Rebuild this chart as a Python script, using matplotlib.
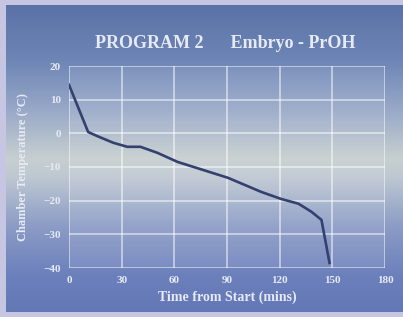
import numpy as np
import matplotlib
matplotlib.use("Agg")
import matplotlib.pyplot as plt
from matplotlib.colors import LinearSegmentedColormap

# program profile: time (min) vs chamber temperature (C)
time_min = [0, 10.9, 16.0, 25.2, 33.2, 40.7, 50.4, 61.9, 90.5, 109.5, 120.9, 130.7, 138.1, 143.8, 145.6, 148.4]
temp_c = [14.4, 0.4, -0.8, -2.8, -4.0, -4.0, -5.8, -8.5, -13.2, -17.4, -19.5, -20.9, -23.3, -25.7, -30.7, -38.5]

x_ticks = [0, 30, 60, 90, 120, 150, 180]
y_ticks = [20, 10, 0, -10, -20, -30, -40]

TITLE = "PROGRAM 2      Embryo - PrOH"
XLABEL = "Time from Start (mins)"
YLABEL = "Chamber Temperature (\u00b0C)"

TXT = "#e6eaf4"
LINE = "#34406e"
plt.rcParams["font.family"] = ["Liberation Serif", "DejaVu Serif"]

W, H = 403, 317
fig = plt.figure(figsize=(W / 100, H / 100), dpi=100)
fig.patch.set_facecolor("#c6c6e2")

# blue panel with a pale band across the middle
bg = fig.add_axes([6 / W, 5 / H, 397 / W, 307 / H])
stops = [(0.0, "#5a72a6"), (0.18, "#6e86b6"), (0.34, "#98a8c8"), (0.5, "#c6cfd0"),
         (0.56, "#bec8d2"), (0.72, "#8c9cc6"), (0.88, "#6c80bc"), (1.0, "#6478b6")]
cmap = LinearSegmentedColormap.from_list("panel", stops)
grad = np.linspace(0, 1, 256).reshape(-1, 1)
bg.imshow(grad, aspect="auto", cmap=cmap, extent=[0, 1, 1, 0])
bg.set_axis_off()

ax = fig.add_axes([69 / W, 1 - 268 / H, 316 / W, 202 / H])
ax.patch.set_facecolor("white")
ax.patch.set_alpha(0.08)
ax.plot(time_min, temp_c, color=LINE, lw=1.9, zorder=3)

ax.set_xlim(0, 180)
ax.set_ylim(-40, 20)
ax.set_xticks(x_ticks)
ax.set_yticks(y_ticks)
ax.grid(True, color="white", alpha=0.5, lw=1.4)
for s in ax.spines.values():
    s.set_visible(False)
ax.tick_params(length=0, colors=TXT, labelsize=8, pad=6)
for lab in ax.get_xticklabels() + ax.get_yticklabels():
    lab.set_fontweight("bold")

ax.set_xlabel(XLABEL, color=TXT, fontsize=10, fontweight="bold", labelpad=4)
ax.set_ylabel(YLABEL, color=TXT, fontsize=9, fontweight="bold", labelpad=10)
fig.text(225 / W, 1 - 43 / H, TITLE, color=TXT, fontsize=13, fontweight="bold",
         ha="center", va="center")

fig.savefig("out.png", dpi=100, facecolor=fig.get_facecolor())
